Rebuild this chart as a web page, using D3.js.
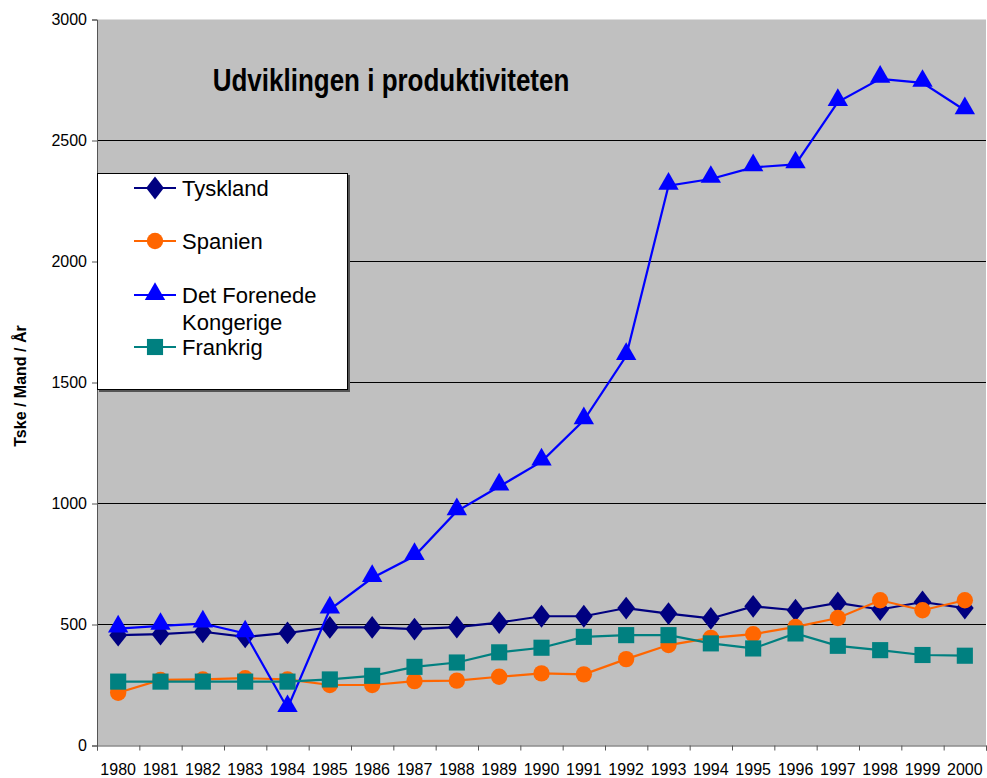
<!DOCTYPE html>
<html>
<head>
<meta charset="utf-8">
<script src="https://cdn.jsdelivr.net/npm/d3@7"></script>
<style>
  body { margin: 0; background: #fff; }
  text { font-family: "Liberation Sans", Arial, sans-serif; }
</style>
</head>
<body>
<div class="chart"></div>
<script>
var years = ["1980","1981","1982","1983","1984","1985","1986","1987","1988","1989","1990",
             "1991","1992","1993","1994","1995","1996","1997","1998","1999","2000"];

var tyskland = [456,460,470,449,465,488,488,481,489,508,534,534,568,545,525,575,559,589,562,593,568];
var spanien  = [218,271,273,278,273,250,250,266,268,284,298,294,357,415,445,460,490,527,600,559,600];
var uk       = [483,494,504,463,154,562,692,783,968,1070,1173,1344,1609,2313,2341,2389,2401,2659,2755,2738,2625];
var frankrig = [264,264,264,264,264,273,288,325,343,385,404,449,456,456,422,401,463,412,394,374,371];

var yTicks = [0,500,1000,1500,2000,2500,3000];

var series = [
  {name:"Tyskland", values:tyskland, color:"#000080", shape:"diamond"},
  {name:"Spanien", values:spanien, color:"#FF6600", shape:"circle"},
  {name:"Det Forenede Kongerige", values:uk, color:"#0000FF", shape:"triangle"},
  {name:"Frankrig", values:frankrig, color:"#008080", shape:"square"}
];

var margin = {top: 19.5, right: 1, bottom: 32.5, left: 97};
var Width = 987 - margin.left - margin.right;
var Height = 778 - margin.top - margin.bottom;

var svg = d3.select(".chart").append("svg")
  .attr("width", 987).attr("height", 778);

var g = svg.append("g")
  .attr("transform", "translate(" + margin.left + "," + margin.top + ")");

var xScale = d3.scaleBand().domain(years).range([0, Width]).padding(0);
var xEdge = d3.scaleLinear().domain([0, years.length]).range([0, Width]);
var yScale = d3.scaleLinear().domain([0, 3000]).range([Height, 0]);

// plot background
g.append("rect").attr("width", Width).attr("height", Height).attr("fill", "#C0C0C0");

// gridlines (g is offset by .5, so integer here lands on pixel centres)
g.selectAll(".grid").data(yTicks.filter(function(d){ return d > 0 && d < 3000; }))
  .enter().append("line")
  .attr("x1", 0).attr("x2", Width)
  .attr("y1", function(d){ return Math.round(yScale(d)); })
  .attr("y2", function(d){ return Math.round(yScale(d)); })
  .attr("stroke", "#000").attr("stroke-width", 1);

// y axis
var yAxis = g.append("g").call(d3.axisLeft(yScale).tickValues(yTicks).tickFormat(d3.format("d")).tickSize(5).tickPadding(5));
yAxis.select(".domain").attr("stroke", "#555");
yAxis.selectAll(".tick line").attr("stroke", "#555");
yAxis.selectAll("text").style("font-size", "16px").attr("fill", "#000");

// x axis: boundary ticks + centered labels
var xTicks = g.append("g").attr("transform", "translate(0," + Height + ")")
  .call(d3.axisBottom(xEdge).tickValues(d3.range(years.length + 1)).tickFormat("").tickSize(5));
xTicks.select(".domain").attr("stroke", "#555");
xTicks.selectAll(".tick line").attr("stroke", "#555");

var xLabels = g.append("g").attr("transform", "translate(0," + Height + ")")
  .call(d3.axisBottom(xScale).tickSize(0).tickPadding(18.5));
xLabels.select(".domain").remove();
xLabels.selectAll("text").style("font-size", "16px").attr("fill", "#000");

// title
svg.append("text")
  .attr("transform", "translate(391,91) scale(1,1.2)")
  .attr("text-anchor", "middle")
  .style("font-size", "26px").style("font-weight", "bold")
  .text("Udviklingen i produktiviteten");

// y label
svg.append("text")
  .attr("transform", "translate(26,386) rotate(-90)")
  .attr("text-anchor", "middle")
  .style("font-size", "16px").style("font-weight", "bold")
  .text("Tske / Mand / År");

function symbolFor(shape) {
  if (shape === "diamond") return d3.symbol().type(d3.symbolDiamond).size(150);
  if (shape === "circle") return d3.symbol().type(d3.symbolCircle).size(210);
  if (shape === "triangle") return d3.symbol().type(d3.symbolTriangle).size(180);
  return d3.symbol().type(d3.symbolSquare).size(260);
}

var line = d3.line()
  .x(function(d, i){ return xScale(years[i]) + xScale.bandwidth() / 2; })
  .y(function(d){ return yScale(d); });

series.forEach(function(s) {
  g.append("path")
    .attr("d", line(s.values))
    .attr("fill", "none")
    .attr("stroke", s.color)
    .attr("stroke-width", 2.2);
  g.selectAll(".m-" + s.shape).data(s.values).enter().append("path")
    .attr("d", symbolFor(s.shape)())
    .attr("transform", function(d, i){
      var dy = s.shape === "triangle" ? 2 : 0;
      return "translate(" + (xScale(years[i]) + xScale.bandwidth() / 2) + "," + (yScale(d) - dy) + ")" +
        (s.shape === "diamond" ? " scale(1.35,1)" : "");
    })
    .attr("fill", s.color);
});

// legend
var legend = svg.append("g").attr("transform", "translate(97,173)");
legend.append("rect").attr("x", 2).attr("y", 2).attr("width", 251).attr("height", 217).attr("fill", "#555");
legend.append("rect").attr("x", 0.5).attr("y", 0.5).attr("width", 250).attr("height", 216)
  .attr("fill", "#fff").attr("stroke", "#000").attr("stroke-width", 1);

var legendY = [15, 68, 122, 174];
series.forEach(function(s, i) {
  var item = legend.append("g").attr("transform", "translate(0," + legendY[i] + ")");
  item.append("line").attr("x1", 37).attr("x2", 79).attr("y1", 0).attr("y2", 0)
    .attr("stroke", s.color).attr("stroke-width", 2.2);
  item.append("path").attr("d", symbolFor(s.shape)())
    .attr("transform", "translate(58," + (s.shape === "triangle" ? -1 : 0) + ")" + (s.shape === "diamond" ? " scale(1.35,1)" : ""))
    .attr("fill", s.color);
  var t = item.append("text").attr("x", 85).attr("y", 8).style("font-size", "22px");
  if (s.name === "Det Forenede Kongerige") {
    t.append("tspan").attr("x", 85).text("Det Forenede");
    t.append("tspan").attr("x", 85).attr("dy", 27).text("Kongerige");
  } else {
    t.text(s.name);
  }
});
</script>
</body>
</html>
